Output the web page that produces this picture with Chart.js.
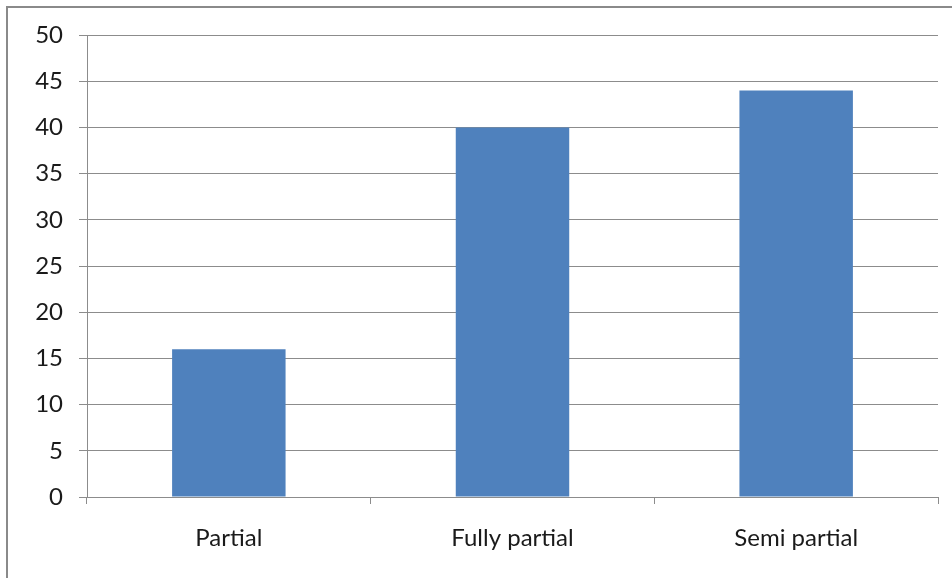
<!DOCTYPE html>
<html>
<head>
<meta charset="utf-8">
<script src="https://cdn.jsdelivr.net/npm/chart.js@4"></script>
<style>
  html, body { margin: 0; padding: 0; background: #fff; overflow: hidden; }
  #wrap { position: relative; width: 952px; height: 578px; }
  #frame { position: absolute; left: 6px; top: 6px; width: 980px; height: 600px; border: 2px solid #8a8a8a; box-sizing: border-box; pointer-events: none; }
  canvas { position: absolute; left: 0; top: 0; }
</style>
</head>
<body>
<div id="wrap">
  <canvas id="chart" width="952" height="578"></canvas>
  <div id="frame"></div>
</div>
<script>
// Dados do gráfico
const categorias = ['Partial', 'Fully partial', 'Semi partial'];
const valores = [16, 40, 44];
const eixoMin = 0;
const eixoMax = 50;
const passo = 5;

const ctx = document.getElementById('chart').getContext('2d');
new Chart(ctx, {
    type: 'bar',
    data: {
        labels: categorias,
        datasets: [{
            data: valores,
            backgroundColor: '#4f81bd',
            borderWidth: 0,
            categoryPercentage: 1,
            barPercentage: 0.4
        }]
    },
    options: {
        responsive: false,
        animation: false,
        layout: { padding: { left: 0, top: 35, right: 14, bottom: 0 } },
        plugins: { legend: { display: false }, tooltip: { enabled: false } },
        scales: {
            x: {
                offset: true,
                grid: { offset: true, drawOnChartArea: false, color: '#8c8c8c', tickLength: 7 },
                border: { color: '#8c8c8c' },
                ticks: { color: '#1a1a1a', padding: 20, font: { family: 'Lato', size: 24 } },
                afterFit: s => { s.height = 81; }
            },
            y: {
                min: eixoMin,
                max: eixoMax,
                grid: { color: '#8c8c8c', tickLength: 8 },
                border: { color: '#8c8c8c' },
                ticks: { stepSize: passo, color: '#1a1a1a', padding: 16, font: { family: 'Lato', size: 24 } },
                afterFit: s => { s.width = 87; }
            }
        }
    }
});
</script>
</body>
</html>
